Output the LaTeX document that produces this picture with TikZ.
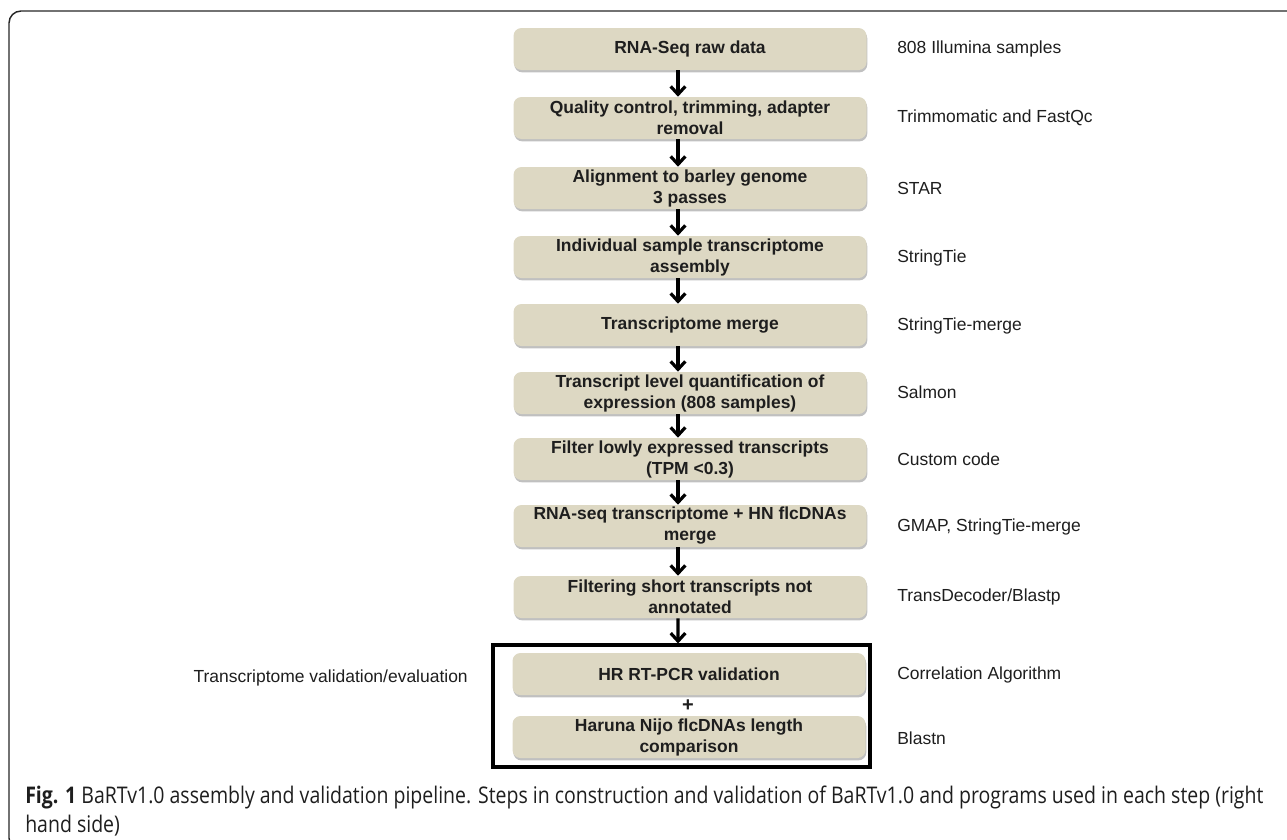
\documentclass[tikz,border=0pt]{standalone}
\usepackage{fontspec}
\setmainfont{Liberation Sans}
\newfontfamily\capfont[FakeStretch=0.85]{Open Sans}
\usetikzlibrary{arrows.meta,shadows}
\definecolor{boxbeige}{HTML}{DDD8C3}
\definecolor{txt}{HTML}{1E1E1E}
\tikzset{
  stepbox/.style={rounded corners=6pt, fill=boxbeige, minimum width=264.75pt, minimum height=31.5pt,
    inner sep=0pt, align=center, text=txt, font=\fontsize{13.1pt}{15.75pt}\selectfont\bfseries,
    drop shadow={shadow xshift=0.6pt, shadow yshift=-1.8pt, fill=black!45, opacity=0.55}},
  tool/.style={anchor=west, inner sep=0pt, text=txt, font=\fontsize{13.1pt}{15.75pt}\selectfont},
  captext/.style={anchor=base west, inner sep=0pt, text=txt, font=\capfont\fontsize{17.2pt}{21pt}\selectfont},
  arr/.style={line width=2.4pt, -{Straight Barb[length=6pt,width=11pt,line width=2.4pt]}, black},
  vframe/.style={draw=black, line width=2.3pt, minimum width=282.75pt, minimum height=91.5pt, inner sep=0pt},
}
\begin{document}
\begin{tikzpicture}[x=0.75pt,y=-0.75pt]
\useasboundingbox (0,0) rectangle (1287,839);
\begin{scope}
\clip (0,0) rectangle (1287,839);
\draw[line width=1.1pt, black!85, rounded corners=9pt] (1300,11) -- (9,11) -- (9,850) -- (30,850);
\end{scope}

\node[stepbox] (b1) at (690,49) {RNA-Seq raw data};
\node[stepbox] (b2) at (690,118) {Quality control, trimming, adapter\\removal};
\node[stepbox] (b3) at (690,188) {Alignment to barley genome\\3 passes};
\node[stepbox] (b4) at (690,257) {Individual sample transcriptome\\assembly};
\node[stepbox] (b5) at (690,325) {Transcriptome merge};
\node[stepbox] (b6) at (690,393) {Transcript level quantification of\\expression (808 samples)};
\node[stepbox] (b7) at (690,459) {Filter lowly expressed transcripts\\(TPM <0.3)};
\node[stepbox] (b8) at (690,526) {RNA-seq transcriptome + HN flcDNAs\\merge};
\node[stepbox] (b9) at (690,597) {Filtering short transcripts not\\annotated};
\node[vframe] (vf) at (681.5,706) {};
\node[stepbox] (b10) at (689,674) {HR RT-PCR validation};
\node[stepbox] (b11) at (689,737) {Haruna Nijo flcDNAs length\\comparison};
\node[inner sep=0pt, font=\fontsize{15pt}{16pt}\selectfont\bfseries, text=txt] (plus) at (688,706) {+};

\foreach \a/\b in {b1/b2,b2/b3,b3/b4,b4/b5,b5/b6,b6/b7,b7/b8,b8/b9}
  \draw[arr] ([xshift=-9pt]\a.south) -- ([xshift=-9pt]\b.north);
\draw[arr] ([xshift=-9pt]b9.south) -- ([xshift=-2.6pt]vf.north);

\node[tool] (t1) at (897,49) {808 Illumina samples};
\node[tool] (t2) at (897,118) {Trimmomatic and FastQc};
\node[tool] (t3) at (897,188) {STAR};
\node[tool] (t4) at (897,258) {StringTie};
\node[tool] (t5) at (897,326) {StringTie-merge};
\node[tool] (t6) at (897,392) {Salmon};
\node[tool] (t7) at (897,459) {Custom code};
\node[tool] (t8) at (897,527) {GMAP, StringTie-merge};
\node[tool] (t9) at (897,597) {TransDecoder/Blastp};
\node[tool] (t10) at (897,675) {Correlation Algorithm};
\node[tool] (t11) at (897,738) {Blastn};
\node[tool, anchor=east] (lv) at (468,678) {Transcriptome validation/evaluation};

\node[captext] (cap1) at (25,803) {\textbf{Fig. 1} BaRTv1.0 assembly and validation pipeline. Steps in construction and validation of BaRTv1.0 and programs used in each step (right};
\node[captext] (cap2) at (25,832) {hand side)};
\end{tikzpicture}
\end{document}
